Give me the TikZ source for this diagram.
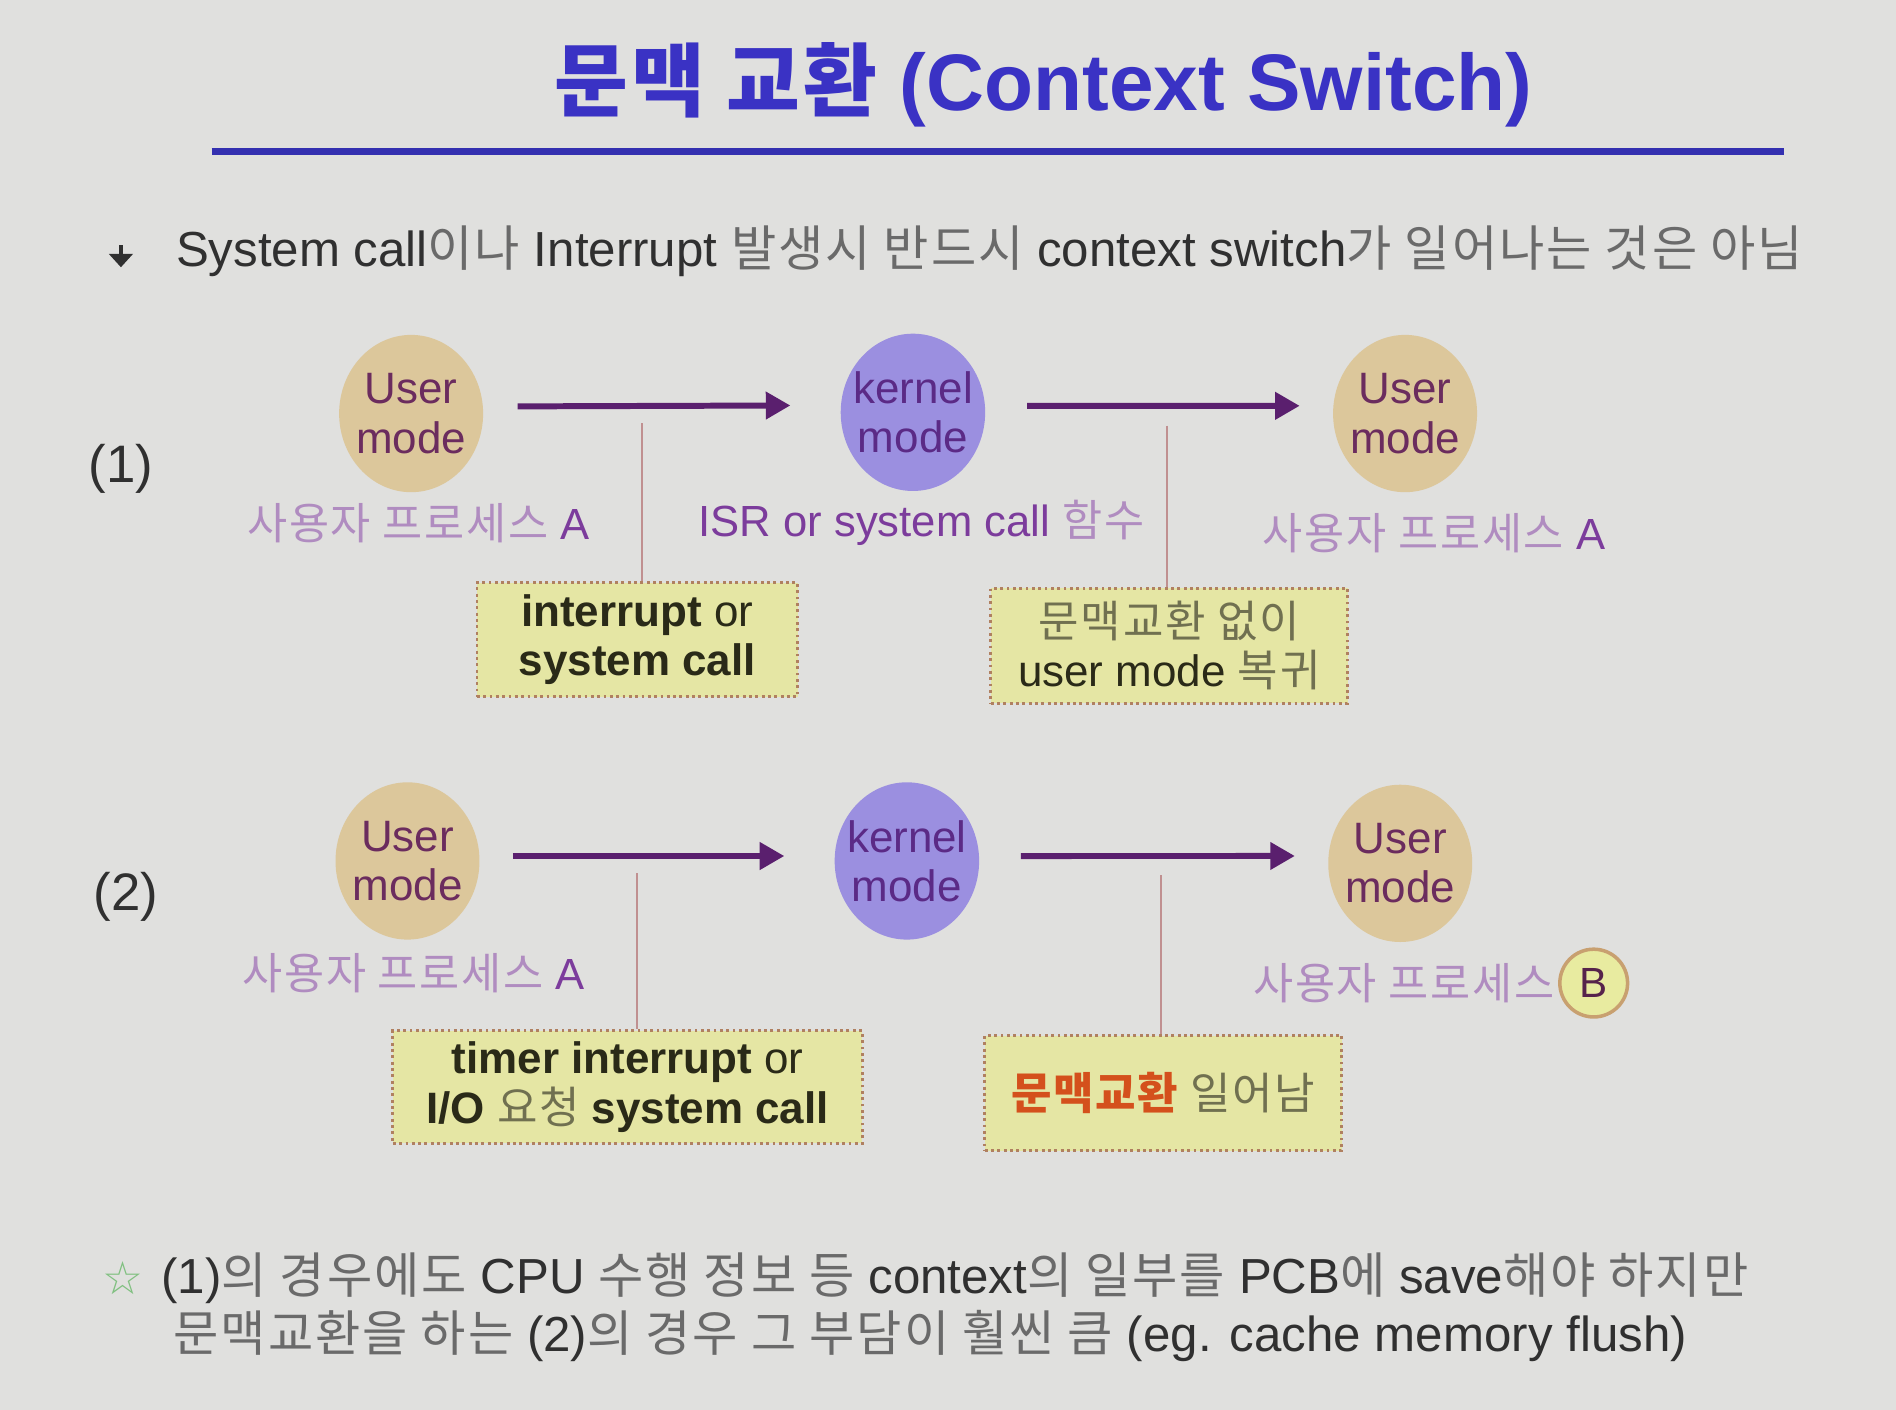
\documentclass[tikz,border=0pt]{standalone}
\usepackage{fontspec}
\setmainfont{Liberation Sans}
\newfontfamily\kr[LetterSpace=4]{Noto Sans CJK KR}
\newfontfamily\djv{DejaVu Sans}
\usetikzlibrary{shapes.geometric,arrows.meta}
\newlength\pu
\setlength\pu{0.344051pt}
\newcommand\K[1]{{\kr #1}}
\definecolor{bg}{HTML}{E0E0DE}
\definecolor{titlec}{HTML}{3A32C4}
\definecolor{rulec}{HTML}{3430B0}
\definecolor{txt}{HTML}{303030}
\definecolor{krtxt}{HTML}{6A6A6A}
\definecolor{userfill}{HTML}{DCC79B}
\definecolor{usertext}{HTML}{6B2C5E}
\definecolor{kernfill}{HTML}{9B8FE0}
\definecolor{kerntext}{HTML}{5B2A86}
\definecolor{arrowc}{HTML}{5A1F6E}
\definecolor{lblkr}{HTML}{B08CC0}
\definecolor{lbllat}{HTML}{7C3C9C}
\definecolor{tickc}{HTML}{C09090}
\definecolor{notefill}{HTML}{E5E6A4}
\definecolor{noteedge}{HTML}{B08060}
\definecolor{notetext}{HTML}{2A2A18}
\definecolor{notekr}{HTML}{707050}
\definecolor{redk}{HTML}{D4501C}
\definecolor{bfill}{HTML}{E8EBA0}
\definecolor{bedge}{HTML}{C8A070}
\definecolor{starc}{HTML}{80C080}
\tikzset{
  umode/.style={ellipse, fill=userfill, minimum width=119\pu, minimum height=130\pu, inner xsep=-2.5pt, inner ysep=0pt, align=center, text=usertext, font=\fontsize{12.5}{14}\selectfont},
  kmode/.style={umode, fill=kernfill, text=kerntext},
  note/.style={draw=noteedge, densely dotted, line width=0.8pt, fill=notefill, align=center, text=notetext, inner sep=0pt, font=\fontsize{12.5}{14}\selectfont},
  flow/.style={-{Triangle[length=7pt,width=7.5pt]}, line width=1.7pt, draw=arrowc},
  tickline/.style={draw=tickc, line width=0.5pt},
  lbl/.style={inner sep=0pt, text=lbllat, font=\fontsize{12.4}{14}\selectfont},
  body/.style={inner sep=0pt, anchor=west, text=txt, font=\fontsize{14}{16}\selectfont},
  num/.style={inner sep=0pt, text=txt, font=\fontsize{15}{17}\selectfont},
}
\begin{document}
\begin{tikzpicture}[x=0.012092cm, y=-0.012092cm]
\fill[bg] (0,0) rectangle (1568,1166);
\useasboundingbox (0,0) rectangle (1568,1166);
% title
\node[inner sep=0pt, text=titlec, font=\fontsize{22.8}{26}\selectfont\bfseries] (title) at (863,70) {\K{\bfseries 문맥 교환} (Context Switch)};
\draw[rulec, line width=2pt] (175,125) -- (1475,125);
% bullet
\fill[txt] (90,210) -- (110,210) -- (100,221) -- cycle;
\draw[txt, line width=1pt] (100,203) -- (100,211);
\node[body] (bullet) at (145,208) {System call\textcolor{krtxt}{\K{이나}} Interrupt \textcolor{krtxt}{\K{발생시 반드시}} context switch\textcolor{krtxt}{\K{가 일어나는 것은 아님}}};
% row 1
\node[num] (n1) at (100,388) {(1)};
\node[umode] (u1) at (340,342) {User\\mode};
\node[kmode] (k1) at (755,341) {kernel\\mode};
\node[umode] (u2) at (1162,342) {User\\mode};
\draw[flow, shorten <=28\pu, shorten >=41\pu] ([yshift=2pt]u1.east) -- ([yshift=2pt]k1.west);
\draw[flow, shorten <=34\pu, shorten >=27\pu] ([yshift=1.8pt]k1.east) -- ([yshift=2.2pt]u2.west);
\node[lbl] (l1) at (346,433) {\textcolor{lblkr}{\K{사용자 프로세스}} A};
\node[lbl] (l2) at (762,432) {ISR or system call \textcolor{lblkr}{\K{함수}}};
\node[lbl] (l3) at (1186,441) {\textcolor{lblkr}{\K{사용자 프로세스}} A};
\node[note, minimum width=265\pu, minimum height=94\pu] (b1) at (527,529) {\textbf{interrupt} or\\\textbf{system call}};
\node[note, minimum width=295\pu, minimum height=95\pu] (b2) at (967,534) {\textcolor{notekr}{\K{문맥교환 없이}}\\user mode \textcolor{notekr}{\K{복귀}}};
\coordinate (t1) at (531,350);
\coordinate (t2) at (965,352);
\draw[tickline] (t1) -- (t1 |- b1.north);
\draw[tickline] (t2) -- (t2 |- b2.north);
% row 2
\node[num] (n2) at (104,742) {(2)};
\node[umode] (u3) at (337,712) {User\\mode};
\node[kmode] (k2) at (750,712) {kernel\\mode};
\node[umode] (u4) at (1158,714) {User\\mode};
\draw[flow, shorten <=27\pu, shorten >=41\pu] ([yshift=1.4pt]u3.east) -- ([yshift=1.4pt]k2.west);
\draw[flow, shorten <=34\pu, shorten >=27\pu] ([yshift=1.4pt]k2.east) -- ([yshift=2.1pt]u4.west);
\node[lbl] (l4) at (342,805) {\textcolor{lblkr}{\K{사용자 프로세스}} A};
\node[lbl, anchor=east] (l5) at (1286,813) {\textcolor{lblkr}{\K{사용자 프로세스}}};
\node[circle, draw=bedge, line width=1pt, fill=bfill, minimum size=56\pu, inner sep=0pt, text=usertext!80!black, font=\fontsize{12}{14}\selectfont] (bB) at (1318,813) {B};
\node[note, minimum width=388\pu, minimum height=93\pu] (b3) at (519,899) {\textbf{timer interrupt} or\\\textbf{I/O} \textcolor{notekr}{\K{요청}} \textbf{system call}};
\node[note, minimum width=295\pu, minimum height=95\pu] (b4) at (962,904) {\textcolor{redk}{\K{\bfseries 문맥교환}} \textcolor{notekr}{\K{일어남}}};
\coordinate (t3) at (527,722);
\coordinate (t4) at (960,724);
\draw[tickline] (t3) -- (t3 |- b3.north);
\draw[tickline] (t4) -- (t4 |- b4.north);
% bottom
\node[inner sep=0pt, text=starc, font=\djv\fontsize{13}{15}\selectfont] (star) at (102,1057) {☆};
\node[body] (f1) at (133,1057) {(1)\textcolor{krtxt}{\K{의 경우에도}} CPU \textcolor{krtxt}{\K{수행 정보 등}} context\textcolor{krtxt}{\K{의 일부를}} PCB\textcolor{krtxt}{\K{에}} save\textcolor{krtxt}{\K{해야 하지만}}};
\node[body] (f2) at (143,1105) {\textcolor{krtxt}{\K{문맥교환을 하는}} (2)\textcolor{krtxt}{\K{의 경우 그 부담이 훨씬 큼}} (eg. cache memory flush)};
\end{tikzpicture}
\end{document}
